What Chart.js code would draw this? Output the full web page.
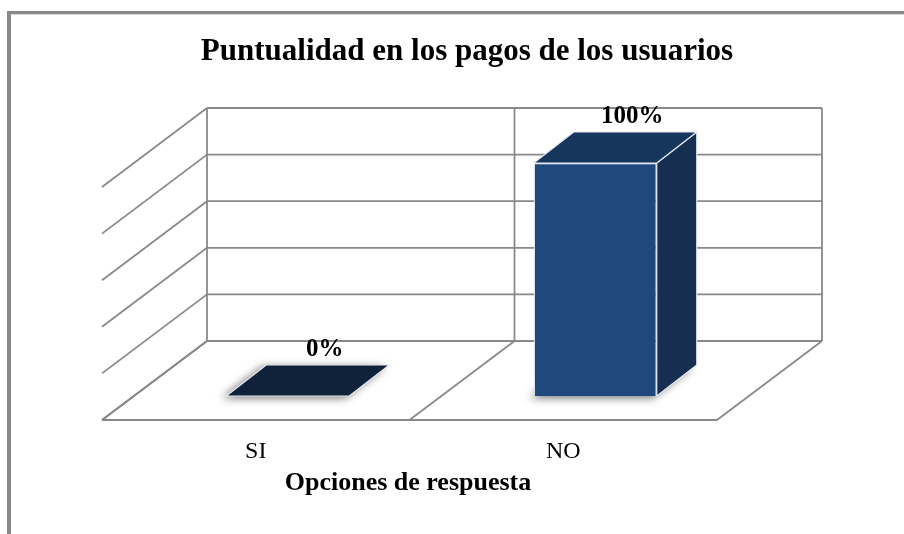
<!DOCTYPE html>
<html>
<head>
<meta charset="utf-8">
<script src="https://cdn.jsdelivr.net/npm/chart.js@4/dist/chart.umd.min.js"></script>
<style>
html,body{margin:0;padding:0;background:#fff;}
#wrap{width:904px;height:534px;position:relative;}
</style>
</head>
<body>
<div id="wrap"><canvas id="c" width="904" height="534"></canvas></div>
<script>
// ---- data ----
const categories = ['SI', 'NO'];
const values = [0, 100];
const valueLabels = ['0%', '100%'];
const titleText = 'Puntualidad en los pagos de los usuarios';
const axisTitleText = 'Opciones de respuesta';
const yMin = 0, yMax = 100, yStep = 20;

// ---- 3D geometry / style ----
const BACK = {dx: 73, dy: -55};    // bar front plane -> back wall
const FRONT = {dx: -32, dy: 24};   // bar front plane -> floor front edge
const DEPTH = {dx: 40, dy: -31};   // bar depth
const GRID = '#898989';
const SERIF = '"Liberation Serif", "Times New Roman", serif';

const threeD = {
  id: 'threeD',
  beforeDraw(chart) {
    const ctx = chart.ctx;
    ctx.save();
    ctx.fillStyle = '#fff';
    ctx.fillRect(0, 0, chart.width, chart.height);
    // outer frame
    ctx.fillStyle = '#888888';
    ctx.fillRect(7, 11, 4, chart.height - 11);
    ctx.fillRect(7, 11, chart.width - 7, 3);
    ctx.fillStyle = '#dcdcdc';
    ctx.fillRect(11, 14, chart.width - 11, 1);
    // title
    ctx.fillStyle = '#000';
    ctx.font = 'bold 31px ' + SERIF;
    ctx.textAlign = 'center';
    ctx.textBaseline = 'alphabetic';
    ctx.fillText(titleText, 467, 60);
    ctx.restore();
  },
  beforeDatasetsDraw(chart) {
    const ctx = chart.ctx;
    const xs = chart.scales.x, ys = chart.scales.y;
    const L = chart.chartArea.left, R = chart.chartArea.right;
    ctx.save();
    ctx.strokeStyle = GRID;
    ctx.lineWidth = 1.8;
    const line = (x1, y1, x2, y2) => { ctx.beginPath(); ctx.moveTo(x1, y1); ctx.lineTo(x2, y2); ctx.stroke(); };
    // horizontal gridlines on back wall + side wall diagonals
    ys.ticks.forEach(t => {
      const py = ys.getPixelForValue(t.value);
      line(L + BACK.dx, py + BACK.dy, R + BACK.dx, py + BACK.dy);
      line(L + BACK.dx, py + BACK.dy, L + FRONT.dx, py + FRONT.dy);
    });
    // category boundaries: back wall verticals and floor diagonals
    const top = ys.getPixelForValue(yMax), base = ys.getPixelForValue(yMin);
    const bounds = [L];
    for (let i = 0; i < categories.length - 1; i++) {
      bounds.push((xs.getPixelForValue(i) + xs.getPixelForValue(i + 1)) / 2);
    }
    bounds.push(R);
    bounds.forEach(bx => {
      line(bx + BACK.dx, top + BACK.dy, bx + BACK.dx, base + BACK.dy);
      line(bx + BACK.dx, base + BACK.dy, bx + FRONT.dx, base + FRONT.dy);
    });
    // floor front edge
    line(L + FRONT.dx, base + FRONT.dy, R + FRONT.dx, base + FRONT.dy);

    // soft shadows under bars
    const meta = chart.getDatasetMeta(0);
    meta.data.forEach(bar => {
      const x1 = bar.x - bar.width / 2, x2 = bar.x + bar.width / 2, b = bar.base;
      ctx.save();
      ctx.shadowColor = 'rgba(0,0,0,0.55)';
      ctx.shadowBlur = 9;
      ctx.shadowOffsetX = -4;
      ctx.shadowOffsetY = 2;
      ctx.fillStyle = '#ffffff';
      ctx.beginPath();
      ctx.moveTo(x1, b);
      ctx.lineTo(x2, b);
      ctx.lineTo(x2 + DEPTH.dx, b + DEPTH.dy);
      ctx.lineTo(x1 + DEPTH.dx, b + DEPTH.dy);
      ctx.closePath();
      ctx.fill();
      ctx.restore();
    });
    ctx.restore();
  },
  afterDatasetsDraw(chart) {
    const ctx = chart.ctx;
    const meta = chart.getDatasetMeta(0);
    ctx.save();
    ctx.lineJoin = 'round';
    meta.data.forEach((bar, i) => {
      const x1 = bar.x - bar.width / 2, x2 = bar.x + bar.width / 2;
      const yt = bar.y, b = bar.base;
      const flat = Math.abs(b - yt) < 0.5;
      // right side face
      if (!flat) {
        ctx.beginPath();
        ctx.moveTo(x2, yt);
        ctx.lineTo(x2 + DEPTH.dx, yt + DEPTH.dy);
        ctx.lineTo(x2 + DEPTH.dx, b + DEPTH.dy);
        ctx.lineTo(x2, b);
        ctx.closePath();
        ctx.fillStyle = '#162E4F';
        ctx.fill();
        ctx.strokeStyle = '#e4e8ee';
        ctx.lineWidth = 1.2;
        ctx.stroke();
      }
      // top face
      ctx.beginPath();
      ctx.moveTo(x1, yt);
      ctx.lineTo(x2, yt);
      ctx.lineTo(x2 + DEPTH.dx, yt + DEPTH.dy);
      ctx.lineTo(x1 + DEPTH.dx, yt + DEPTH.dy);
      ctx.closePath();
      ctx.fillStyle = flat ? '#10213A' : '#17365D';
      ctx.fill();
      ctx.strokeStyle = '#e4e8ee';
      ctx.lineWidth = 1.2;
      ctx.stroke();
      // value label
      ctx.fillStyle = '#000';
      ctx.font = 'bold 25px ' + SERIF;
      ctx.textAlign = 'center';
      ctx.textBaseline = 'alphabetic';
      ctx.fillText(valueLabels[i], bar.x + 37, yt - 40);
    });
    // category labels on the floor front edge
    const xs = chart.scales.x;
    const base = chart.scales.y.getPixelForValue(yMin);
    ctx.font = '24px ' + SERIF;
    categories.forEach((c, i) => {
      ctx.fillText(c, xs.getPixelForValue(i) + FRONT.dx, 458);
    });
    ctx.font = 'bold 26px ' + SERIF;
    ctx.fillText(axisTitleText, 408, 490);
    ctx.restore();
  }
};

new Chart(document.getElementById('c'), {
  type: 'bar',
  data: {
    labels: categories,
    datasets: [{
      data: values,
      backgroundColor: '#1F487C',
      borderColor: '#e4e8ee',
      borderWidth: 1.2,
      barPercentage: 0.4,
      categoryPercentage: 1.0
    }]
  },
  options: {
    responsive: false,
    animation: false,
    devicePixelRatio: 1,
    layout: { padding: { left: 134, right: 155, top: 163, bottom: 138 } },
    plugins: { legend: { display: false }, title: { display: false }, tooltip: { enabled: false } },
    scales: {
      x: { type: 'category', display: false, offset: true },
      y: { display: false, min: yMin, max: yMax, ticks: { stepSize: yStep } }
    }
  },
  plugins: [threeD]
});
</script>
</body>
</html>
